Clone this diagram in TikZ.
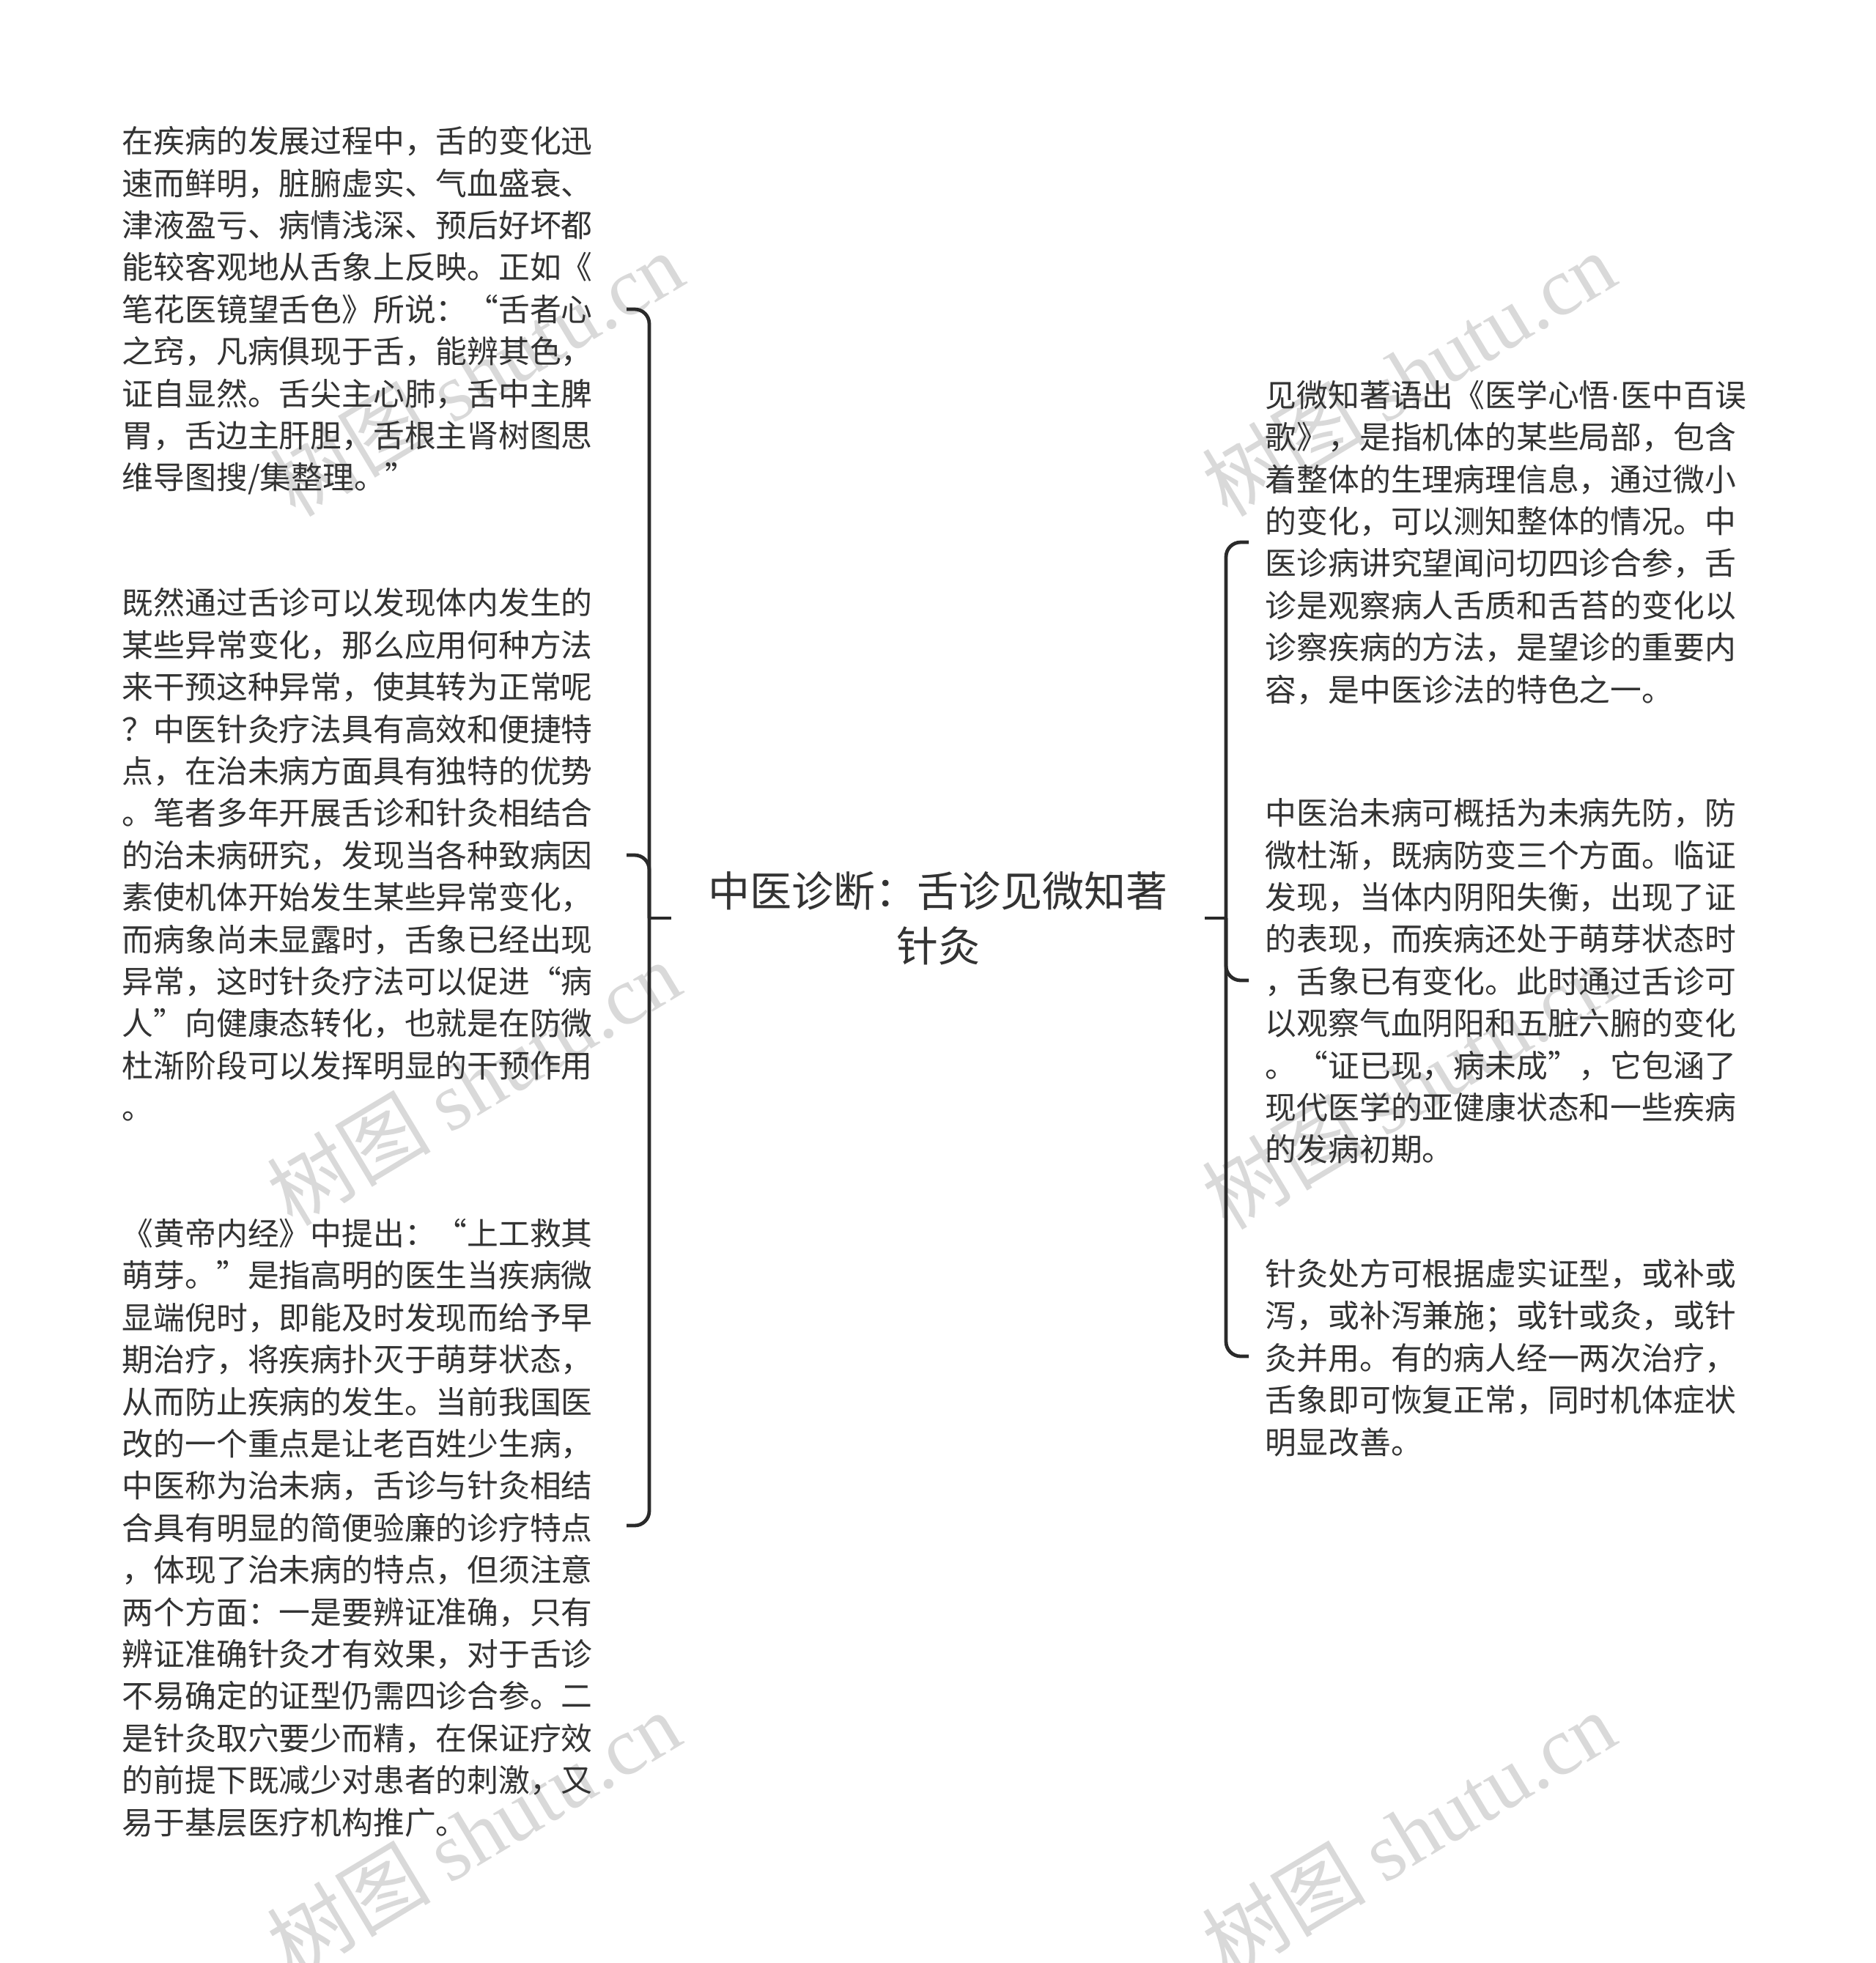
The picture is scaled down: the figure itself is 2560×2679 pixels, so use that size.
\documentclass[tikz,border=0pt]{standalone}
\usepackage{fontspec}
\setmainfont{Noto Sans CJK SC}
\newfontfamily\wmlat{Liberation Serif}
\newfontfamily\latsans{Liberation Sans}
\definecolor{txt}{HTML}{333333}
\definecolor{lnc}{HTML}{2A2A2A}
\definecolor{wmc}{HTML}{D9D9D9}
\newcommand\fsA{\rule{0pt}{11pt}}
\newcommand\lsA{\rule[-2.87pt]{0pt}{2.87pt}}
\newcommand\fsR{\rule{0pt}{14pt}}
\newcommand\lsR{\rule[-3.17pt]{0pt}{3.17pt}}
\tikzset{
  blk/.style={inner sep=0pt, align=left, text=txt, anchor=west,
    font=\fontsize{10.7pt}{14.35pt}\selectfont},
  rootn/.style={inner sep=0pt, align=center, text=txt, minimum width=181.5pt,
    font=\fontsize{14.25pt}{18.75pt}\selectfont},
  conn/.style={draw=lnc, line width=1.2pt},
  brconn/.style={conn, rounded corners=5pt},
  wmk/.style={text=wmc, rotate=31, inner sep=0pt,
    font=\fontsize{28pt}{30pt}\selectfont}
}
\begin{document}
\begin{tikzpicture}[x=0.25pt, y=-0.25pt]
\useasboundingbox (0,0) rectangle (2560,2679);
\fill[white] (0,0) rectangle (2560,2679);

% watermarks
\node[wmk] (w1) at (650,510) {树图 {\wmlat shutu.cn}};
\node[wmk] (w2) at (1922,510) {树图 {\wmlat shutu.cn}};
\node[wmk] (w3) at (646,1478) {树图 {\wmlat shutu.cn}};
\node[wmk] (w4) at (1922,1483) {树图 {\wmlat shutu.cn}};
\node[wmk] (w5) at (646,2502) {树图 {\wmlat shutu.cn}};
\node[wmk] (w6) at (1922,2502) {树图 {\wmlat shutu.cn}};

% root
\node[rootn] (root) at (1280,1253) {\fsR 中医诊断：舌诊见微知著\\针灸\lsR};

\coordinate (jL) at (886,1253);
\coordinate (jR) at (1673,1253);

% left blocks
\node[blk] (L1) at (166,422) {\fsA 在疾病的发展过程中，舌的变化迅\\
速而鲜明，脏腑虚实、气血盛衰、\\
津液盈亏、病情浅深、预后好坏都\\
能较客观地从舌象上反映。正如《\\
笔花医镜望舌色》所说：“舌者心\\
之窍，凡病俱现于舌，能辨其色，\\
证自显然。舌尖主心肺，舌中主脾\\
胃，舌边主肝胆，舌根主肾树图思\\
维导图搜/集整理。”\lsA};

\node[blk] (L2) at (166,1167) {\fsA 既然通过舌诊可以发现体内发生的\\
某些异常变化，那么应用何种方法\\
来干预这种异常，使其转为正常呢\\
？中医针灸疗法具有高效和便捷特\\
点，在治未病方面具有独特的优势\\
。笔者多年开展舌诊和针灸相结合\\
的治未病研究，发现当各种致病因\\
素使机体开始发生某些异常变化，\\
而病象尚未显露时，舌象已经出现\\
异常，这时针灸疗法可以促进“病\\
人”向健康态转化，也就是在防微\\
杜渐阶段可以发挥明显的干预作用\\
。\lsA};

\node[blk] (L3) at (166,2085) {\fsA 《黄帝内经》中提出：“上工救其\\
萌芽。”是指高明的医生当疾病微\\
显端倪时，即能及时发现而给予早\\
期治疗，将疾病扑灭于萌芽状态，\\
从而防止疾病的发生。当前我国医\\
改的一个重点是让老百姓少生病，\\
中医称为治未病，舌诊与针灸相结\\
合具有明显的简便验廉的诊疗特点\\
，体现了治未病的特点，但须注意\\
两个方面：一是要辨证准确，只有\\
辨证准确针灸才有效果，对于舌诊\\
不易确定的证型仍需四诊合参。二\\
是针灸取穴要少而精，在保证疗效\\
的前提下既减少对患者的刺激，又\\
易于基层医疗机构推广。\lsA};

% right blocks
\node[blk] (R1) at (1726,740) {\fsA 见微知著语出《医学心悟{\latsans ·}医中百误\\
歌》，是指机体的某些局部，包含\\
着整体的生理病理信息，通过微小\\
的变化，可以测知整体的情况。中\\
医诊病讲究望闻问切四诊合参，舌\\
诊是观察病人舌质和舌苔的变化以\\
诊察疾病的方法，是望诊的重要内\\
容，是中医诊法的特色之一。\lsA};

\node[blk] (R2) at (1726,1339) {\fsA 中医治未病可概括为未病先防，防\\
微杜渐，既病防变三个方面。临证\\
发现，当体内阴阳失衡，出现了证\\
的表现，而疾病还处于萌芽状态时\\
，舌象已有变化。此时通过舌诊可\\
以观察气血阴阳和五脏六腑的变化\\
。“证已现，病未成”，它包涵了\\
现代医学的亚健康状态和一些疾病\\
的发病初期。\lsA};

\node[blk] (R3) at (1726,1853) {\fsA 针灸处方可根据虚实证型，或补或\\
泻，或补泻兼施；或针或灸，或针\\
灸并用。有的病人经一两次治疗，\\
舌象即可恢复正常，同时机体症状\\
明显改善。\lsA};

% branch end points
\coordinate (L1c) at (855,422);
\coordinate (L2c) at (855,1167);
\coordinate (L3c) at (855,2082);
\coordinate (R1c) at (1704,740);
\coordinate (R2c) at (1704,1338);
\coordinate (R3c) at (1704,1851);

% connectors
\draw[conn] (root.west) -- (jL);
\draw[conn] (root.east) -- (jR);
\draw[brconn] (jL) |- (L1c);
\draw[brconn] (jL) |- (L2c);
\draw[brconn] (jL) |- (L3c);
\draw[brconn] (jR) |- (R1c);
\draw[brconn] (jR) |- (R2c);
\draw[brconn] (jR) |- (R3c);
\end{tikzpicture}
\end{document}
